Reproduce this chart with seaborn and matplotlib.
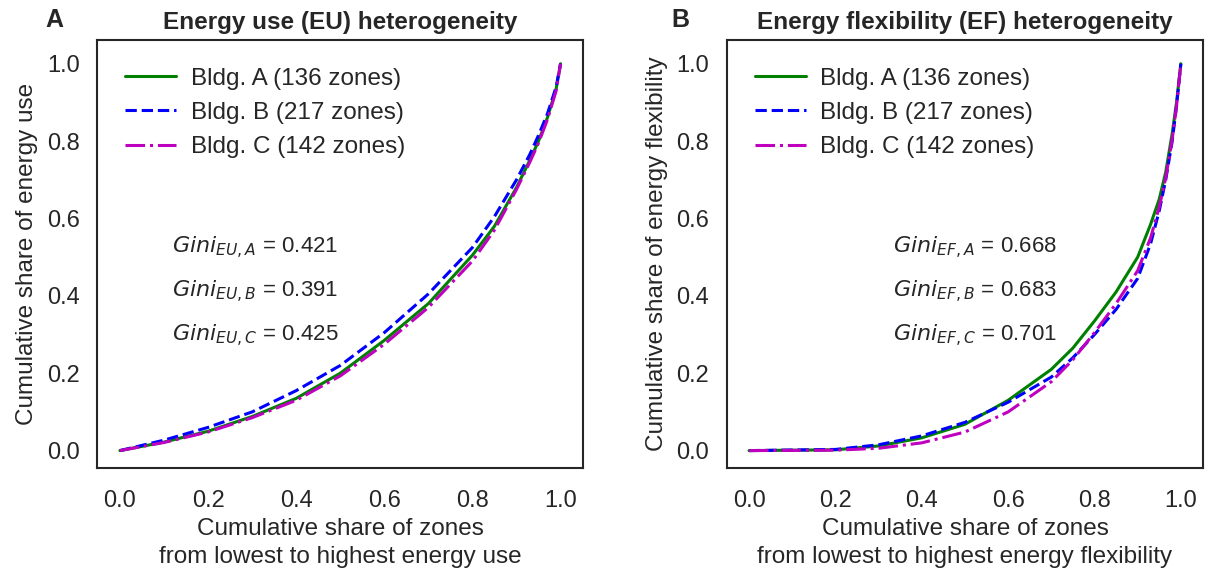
import matplotlib
matplotlib.use("Agg")
import matplotlib.pyplot as plt
import seaborn as sns
import numpy as np

# ---- data ----
legend_labels = ["Bldg. A (136 zones)", "Bldg. B (217 zones)", "Bldg. C (142 zones)"]

eu_x = [0, 0.1, 0.2, 0.3, 0.4, 0.5, 0.6, 0.7, 0.8, 0.85, 0.9, 0.93, 0.95, 0.97, 0.99, 1.0]
eu_a = [0, 0.022, 0.05, 0.088, 0.135, 0.2, 0.285, 0.38, 0.505, 0.58, 0.68, 0.75, 0.80, 0.86, 0.935, 1.0]
eu_b = [0, 0.027, 0.06, 0.1, 0.155, 0.22, 0.305, 0.405, 0.525, 0.605, 0.70, 0.765, 0.815, 0.87, 0.94, 1.0]
eu_c = [0, 0.021, 0.048, 0.085, 0.13, 0.193, 0.275, 0.37, 0.49, 0.57, 0.675, 0.745, 0.795, 0.855, 0.93, 1.0]

ef_x = [0, 0.2, 0.3, 0.4, 0.5, 0.6, 0.7, 0.75, 0.8, 0.85, 0.9, 0.93, 0.95, 0.965, 0.98, 0.99, 1.0]
ef_a = [0, 0.002, 0.012, 0.033, 0.068, 0.13, 0.21, 0.265, 0.335, 0.41, 0.5, 0.585, 0.65, 0.72, 0.82, 0.9, 1.0]
ef_b = [0, 0.003, 0.015, 0.038, 0.073, 0.125, 0.19, 0.24, 0.3, 0.365, 0.445, 0.535, 0.62, 0.70, 0.80, 0.89, 1.0]
ef_c = [0, 0.001, 0.006, 0.02, 0.048, 0.1, 0.178, 0.235, 0.305, 0.38, 0.465, 0.55, 0.63, 0.705, 0.805, 0.89, 1.0]

gini_eu = ["0.421", "0.391", "0.425"]
gini_ef = ["0.668", "0.683", "0.701"]
bldg_keys = ["A", "B", "C"]

titles = ["Energy use (EU) heterogeneity", "Energy flexibility (EF) heterogeneity"]
xlabels = ["Cumulative share of zones\nfrom lowest to highest energy use",
           "Cumulative share of zones\nfrom lowest to highest energy flexibility"]
ylabels = ["Cumulative share of energy use", "Cumulative share of energy flexibility"]
ticks = [0.0, 0.2, 0.4, 0.6, 0.8, 1.0]

colors = ["green", "blue", "m"]
styles = ["-", "--", "-."]

sns.set_style("white")
plt.rcParams["font.family"] = ["Liberation Sans", "DejaVu Sans"]
plt.rcParams["axes.edgecolor"] = "#262626"

fig = plt.figure(figsize=(12.13, 5.76), dpi=100)
ax1 = fig.add_axes([0.080, 0.1875, 0.401, 0.7435])
ax2 = fig.add_axes([0.599, 0.1875, 0.393, 0.7435])

panels = [
    (ax1, eu_x, [eu_a, eu_b, eu_c], gini_eu, "EU", 0.118),
    (ax2, ef_x, [ef_a, ef_b, ef_c], gini_ef, "EF", 0.333),
]

for i, (ax, xs, ys, ginis, tag, tx) in enumerate(panels):
    for y, c, ls, lab in zip(ys, colors, styles, legend_labels):
        sns.lineplot(x=xs, y=y, ax=ax, color=c, linestyle=ls, linewidth=2.2, label=lab)
    ax.set_xticks(ticks)
    ax.set_yticks(ticks)
    ax.tick_params(labelsize=17, colors="#262626", pad=9)
    ax.tick_params(axis="x", pad=12)
    ax.set_xlim(-0.052, 1.052)
    ax.set_ylim(-0.045, 1.062)
    ax.set_title(titles[i], fontsize=17.5, fontweight="bold", color="#262626", pad=8)
    ax.set_xlabel(xlabels[i], fontsize=17.5, color="#262626", labelpad=5, linespacing=1.35)
    ax.set_ylabel(ylabels[i], fontsize=17.5, color="#262626", labelpad=6)
    for s in ax.spines.values():
        s.set_linewidth(1.5)
    leg = ax.legend(loc="upper left", fontsize=17.5, frameon=False,
                    handlelength=2.1, labelspacing=0.5, borderaxespad=0.75,
                    handletextpad=0.6)
    for t in leg.get_texts():
        t.set_color("#262626")
    for k, (key, g) in enumerate(zip(bldg_keys, ginis)):
        ax.text(tx, 0.525 - 0.114 * k, r"$Gini_{%s,%s}$ = %s" % (tag, key, g),
                fontsize=16, color="#262626", va="center", ha="left")

fig.text(0.045, 0.965, "A", fontsize=18, fontweight="bold", ha="center", va="center")
fig.text(0.561, 0.965, "B", fontsize=18, fontweight="bold", ha="center", va="center")

fig.savefig("out.png", dpi=100)
